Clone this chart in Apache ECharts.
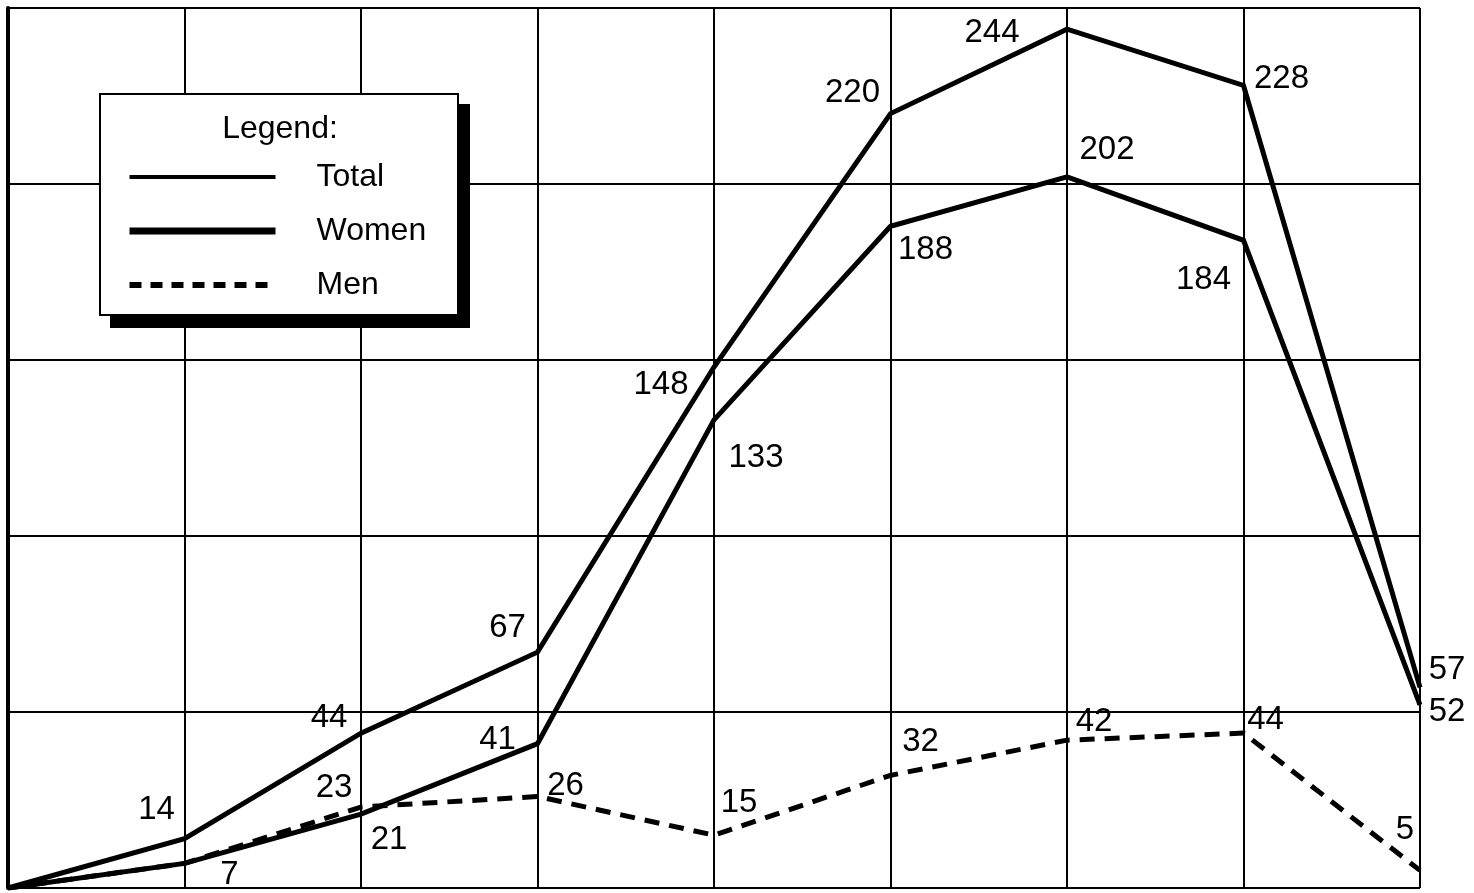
<!DOCTYPE html>
<html>
<head>
<meta charset="utf-8">
<script src="https://cdn.jsdelivr.net/npm/echarts@6/dist/echarts.min.js"></script>
<style>
html,body{margin:0;padding:0;background:#fff;}
#chart{width:1474px;height:893px;}
</style>
</head>
<body>
<div id="chart"></div>
<script>
// ---- data ----
const categories = ['1', '2', '3', '4', '5', '6', '7', '8', '9'];
const totalValues = [0, 14, 44, 67, 148, 220, 244, 228, 57];
const womenValues = [0, 7, 21, 41, 133, 188, 202, 184, 52];
const menValues = [0, 7, 23, 26, 15, 32, 42, 44, 5];
const seriesNames = ['Total', 'Women', 'Men'];
const legendTitle = 'Legend:';

// ---- label placement (pixel offsets from each point; null = no label) ----
const totalLabelOffsets = [null, [-28, -29], [-32, -15], [-30, -24], [-53, 18], [-38, -21], [-75, 4], [38, -7], [27, -17]];
const womenLabelOffsets = [null, [45, 12], [28, 26], [-40, -4], [42, 38], [35, 24], [40, -27], [-40, 40], [27, 7]];
const menLabelOffsets = [null, null, [-27, -19], [28, -11], [25, -32], [30, -33], [27, -18], [22, -13], [-15, -40]];

const FONT = 'Liberation Sans';

function buildData(values, offsets) {
  return values.map((v, i) => {
    const off = offsets[i];
    if (!off) return { value: v, label: { show: false } };
    return { value: v, label: { show: true, offset: off } };
  });
}

const baseLabel = {
  show: true,
  position: 'inside',
  align: 'center',
  verticalAlign: 'middle',
  color: '#000',
  fontFamily: FONT,
  fontSize: 33,
  formatter: p => String(p.value)
};

const chart = echarts.init(document.getElementById('chart'), null, { renderer: 'canvas' });

chart.setOption({
  animation: false,
  backgroundColor: '#fff',
  grid: { left: 8, right: 54, top: 8, bottom: 5, containLabel: false },
  xAxis: {
    type: 'category',
    data: categories,
    boundaryGap: false,
    axisLine: { show: false },
    axisTick: { show: false },
    axisLabel: { show: false },
    splitLine: { show: true, lineStyle: { color: '#000', width: 2 } }
  },
  yAxis: {
    type: 'value',
    min: 0,
    max: 250,
    interval: 50,
    axisLine: { show: true, lineStyle: { color: '#000', width: 4 } },
    axisTick: { show: false },
    axisLabel: { show: false },
    splitLine: { show: true, lineStyle: { color: '#000', width: 2 } }
  },
  graphic: [
    {
      type: 'rect', z: 3,
      shape: { x: 110, y: 104, width: 360, height: 224 },
      style: { fill: '#000' }
    },
    {
      type: 'rect', z: 3,
      shape: { x: 100, y: 94, width: 358, height: 221 },
      style: { fill: '#fff', stroke: '#000', lineWidth: 2 }
    },
    {
      type: 'text', z: 4,
      x: 280, y: 129,
      style: {
        text: legendTitle, fill: '#000', fontFamily: FONT, fontSize: 32,
        align: 'center', verticalAlign: 'middle'
      }
    }
  ],
  legend: {
    z: 6,
    orient: 'vertical',
    left: 121,
    top: 156,
    itemWidth: 146,
    itemHeight: 20,
    itemGap: 22,
    itemStyle: { opacity: 0 },
    textStyle: { color: '#000', fontFamily: FONT, fontSize: 32, padding: [0, 0, 0, 36] },
    data: [
      { name: seriesNames[0], lineStyle: { width: 4, color: '#000' } },
      { name: seriesNames[1], lineStyle: { width: 7, color: '#000' } },
      { name: seriesNames[2], lineStyle: { width: 6, color: '#000', type: [12, 9] } }
    ]
  },
  series: [
    {
      name: seriesNames[0],
      type: 'line',
      data: buildData(totalValues, totalLabelOffsets),
      symbol: 'circle', symbolSize: 1, showSymbol: true,
      itemStyle: { color: '#000' },
      lineStyle: { color: '#000', width: 5, join: 'miter' },
      label: baseLabel,
      z: 5
    },
    {
      name: seriesNames[1],
      type: 'line',
      data: buildData(womenValues, womenLabelOffsets),
      symbol: 'circle', symbolSize: 1, showSymbol: true,
      itemStyle: { color: '#000' },
      lineStyle: { color: '#000', width: 5, join: 'miter' },
      label: baseLabel,
      z: 5
    },
    {
      name: seriesNames[2],
      type: 'line',
      data: buildData(menValues, menLabelOffsets),
      symbol: 'circle', symbolSize: 1, showSymbol: true,
      itemStyle: { color: '#000' },
      lineStyle: { color: '#000', width: 5, type: [15, 10] },
      label: baseLabel,
      z: 5
    }
  ]
});
</script>
</body>
</html>
